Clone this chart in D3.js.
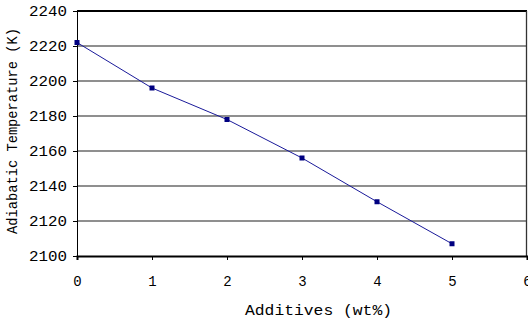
<!DOCTYPE html>
<html>
<head>
<meta charset="utf-8">
<script src="https://cdn.jsdelivr.net/npm/d3@7"></script>
<style>
html,body{margin:0;padding:0;background:#fff;}
svg{display:block;}
</style>
</head>
<body>
<script>
const additives = [0, 1, 2, 3, 4, 5];
const temperature = [2222, 2196, 2178, 2156, 2131, 2107];
const xTicks = [0, 1, 2, 3, 4, 5, 6];
const yTicks = [2100, 2120, 2140, 2160, 2180, 2200, 2220, 2240];
const xTitle = "Additives (wt%)";
const yTitle = "Adiabatic Temperature (K)";

const W = 528, H = 322;
const m = {left: 77, right: 1, top: 11, bottom: 66};
const font = "'Liberation Mono', 'Courier New', monospace";

const svg = d3.select("body").append("svg").attr("width", W).attr("height", H);
const x = d3.scaleLinear().domain([0, 6]).range([m.left, W - m.right]);
const y = d3.scaleLinear().domain([2100, 2240]).range([H - m.bottom, m.top]);

// gridlines
svg.append("g").selectAll("line").data(yTicks.filter(d => d > 2100 && d < 2240)).join("line")
  .attr("x1", m.left).attr("x2", W - m.right)
  .attr("y1", d => y(d)).attr("y2", d => y(d))
  .attr("stroke", "#6a6a6a").attr("stroke-width", 1.3);

// frame
svg.append("line").attr("x1", m.left).attr("x2", W - m.right).attr("y1", y(2240)).attr("y2", y(2240))
  .attr("stroke", "#000").attr("stroke-width", 2);
svg.append("line").attr("x1", W - m.right - 0.5).attr("x2", W - m.right - 0.5).attr("y1", y(2240)).attr("y2", y(2100))
  .attr("stroke", "#333").attr("stroke-width", 1.3);

// axes
const yAxis = svg.append("g").attr("transform", `translate(${m.left},0)`)
  .call(d3.axisLeft(y).tickValues(yTicks).tickSize(4).tickPadding(6).tickFormat(d3.format("d")));
yAxis.select(".domain").attr("stroke", "#000").attr("stroke-width", 1);
yAxis.selectAll("text").attr("font-family", font).attr("font-size", 14.5).attr("fill", "#000")
  .attr("textLength", 38).attr("lengthAdjust", "spacingAndGlyphs");

const xAxis = svg.append("g").attr("transform", `translate(0,${y(2100)})`)
  .call(d3.axisBottom(x).tickValues(xTicks).tickSize(4).tickPadding(16).tickFormat(d3.format("d")));
xAxis.select(".domain").attr("stroke", "#000").attr("stroke-width", 2);
xAxis.selectAll("text").attr("font-family", font).attr("font-size", 14).attr("fill", "#000");

// line + markers
svg.append("path").datum(additives.map((a, i) => [a, temperature[i]]))
  .attr("fill", "none").attr("stroke", "#1a1a9a").attr("stroke-width", 1)
  .attr("d", d3.line().x(d => x(d[0])).y(d => y(d[1])));
svg.append("g").selectAll("rect").data(additives.map((a, i) => [a, temperature[i]])).join("rect")
  .attr("x", d => x(d[0]) - 2.5).attr("y", d => y(d[1]) - 2.5)
  .attr("width", 5).attr("height", 5).attr("fill", "#000080");

// titles
svg.append("text").attr("x", 245).attr("y", 315).attr("text-anchor", "start")
  .attr("font-family", font).attr("font-size", 15)
  .attr("textLength", 147).attr("lengthAdjust", "spacingAndGlyphs").text(xTitle);
svg.append("text").attr("transform", "translate(17,234) rotate(-90)").attr("text-anchor", "start")
  .attr("font-family", font).attr("font-size", 15)
  .attr("textLength", 206).attr("lengthAdjust", "spacingAndGlyphs").text(yTitle);
</script>
</body>
</html>
